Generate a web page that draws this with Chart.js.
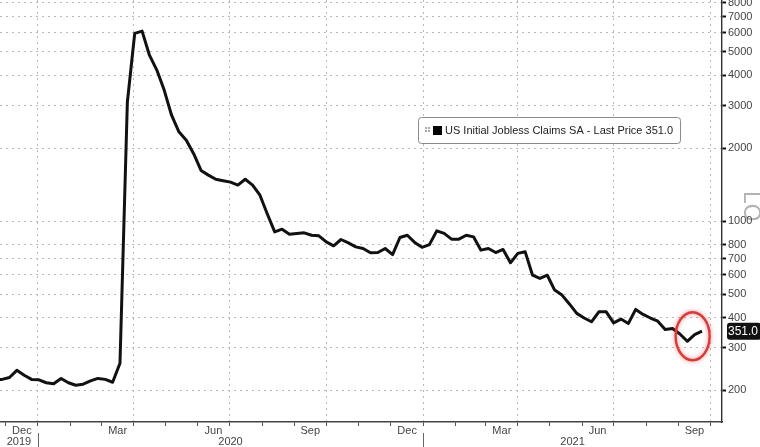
<!DOCTYPE html>
<html>
<head>
<meta charset="utf-8">
<title>US Initial Jobless Claims SA</title>
<script src="https://cdn.jsdelivr.net/npm/chart.js@4.4.0/dist/chart.umd.min.js"></script>
<style>
    html, body { margin: 0; padding: 0; background: #fff; }
    #wrap { width: 760px; height: 447px; }
</style>
</head>
<body>
<div id="wrap"><canvas id="claims-chart" width="760" height="447"></canvas></div>
<script>
// Weekly releases (Thursdays), values in thousands
const firstRelease = '2019-11-21';
const claims = [
    222, 222, 226, 242, 231, 222, 221, 215, 213, 224, 215, 210, 212, 219, 224, 222, 216,
    259, 3100, 5970, 6100, 4850, 4210, 3480, 2740, 2340, 2160, 1900, 1620, 1550, 1490, 1470, 1450, 1410, 1490, 1410,
    1280, 1070, 903, 927, 884, 890, 895, 875, 870, 821, 791, 840, 813, 783, 771, 740, 742, 771, 728, 856, 875, 817, 780,
    800, 912, 890, 843, 843, 875, 861, 759, 771, 742, 764, 673, 736, 747, 598, 580, 598, 519, 495,
    455, 416, 398, 384, 422, 422, 380, 394, 378, 432, 412, 398, 386, 357, 360, 342, 319, 340, 351
];
const lastPrice = 351.0;

// Axis window and tick labels
const axisStart = '2019-11-26';
const axisEnd = '2021-10-12';
const yMin = 148;
const yMax = 8200;
const yTicks = [200, 300, 400, 500, 600, 700, 800, 1000, 2000, 3000, 4000, 5000, 6000, 7000, 8000];
const quarterLabels = { 0: 'Dec', 3: 'Mar', 6: 'Jun', 9: 'Sep' }; // keyed by month that starts the quarter
const years = [2019, 2020, 2021];
const legendText = 'US Initial Jobless Claims SA - Last Price 351.0';

const FONT = '"Liberation Sans", Arial, sans-serif';
const BASE = Date.UTC(2020, 0, 1);
const DAY = 86400000;

function dayIndex(iso) {
    return Math.round((Date.parse(iso + 'T00:00:00Z') - BASE) / DAY);
}

const xMin = dayIndex(axisStart);
const xMax = dayIndex(axisEnd);

// First of every month inside the window
function buildMonthTicks() {
    const ticks = [];
    const start = new Date(BASE + xMin * DAY);
    for (let m = start.getUTCMonth() + 1; ; m++) {
        const t = Date.UTC(start.getUTCFullYear(), m, 1);
        const day = Math.round((t - BASE) / DAY);
        if (day > xMax) break;
        const month = new Date(t).getUTCMonth();
        ticks.push({ value: day, month: month, label: quarterLabels[month] || '' });
    }
    return ticks;
}

const monthTicks = buildMonthTicks();
const isQuarter = (value) => monthTicks.some(t => t.value === value && t.month in quarterLabels);

// Bloomberg style extras: legend box, LOG tag, year row, price tag, highlight ring
const decorations = {
    id: 'decorations',
    beforeDraw(chart) {
        const { ctx, scales, chartArea } = chart;
        ctx.save();
        ctx.fillStyle = '#fff';
        ctx.fillRect(0, 0, chart.width, chart.height);
        // rotated LOG tag on the value axis
        ctx.save();
        ctx.translate(739, 191);
        ctx.rotate(Math.PI / 2);
        ctx.fillStyle = '#b4b4b4';
        ctx.font = '23px ' + FONT;
        ctx.textBaseline = 'bottom';
        ctx.fillText('LOG', 0, 0);
        ctx.restore();
        // white backing under the value labels, the tag tucks under them
        ctx.fillStyle = '#fff';
        yTicks.forEach(v => {
            const py = scales.y.getPixelForValue(v);
            ctx.fillRect(chartArea.right + 5, py - 1, 33, 19);
        });
        ctx.restore();
    },
    afterDraw(chart) {
        const { ctx, chartArea, scales } = chart;
        const x = scales.x, y = scales.y;
        ctx.save();

        // year row under the month labels
        ctx.font = '11px ' + FONT;
        ctx.fillStyle = '#444';
        ctx.textAlign = 'center';
        ctx.textBaseline = 'middle';
        years.forEach(year => {
            const from = Math.max(Date.UTC(year, 0, 1), BASE + xMin * DAY);
            const to = Math.min(Date.UTC(year + 1, 0, 1), BASE + xMax * DAY);
            const mid = ((from + to) / 2 - BASE) / DAY;
            ctx.fillText(String(year), x.getPixelForValue(mid), chartArea.bottom + 20);
            const jan1 = (Date.UTC(year, 0, 1) - BASE) / DAY;
            if (jan1 > xMin && jan1 < xMax) {
                const px = Math.round(x.getPixelForValue(jan1)) + 0.5;
                ctx.strokeStyle = '#666';
                ctx.lineWidth = 1;
                ctx.beginPath();
                ctx.moveTo(px, chartArea.bottom + 11);
                ctx.lineTo(px, chart.height);
                ctx.stroke();
            }
        });

        // ring round the latest readings
        const meta = chart.getDatasetMeta(0).data.slice(-3);
        const xs = meta.map(p => p.x), ys = meta.map(p => p.y);
        const cx = (Math.min(...xs) + Math.max(...xs)) / 2;
        const cy = (Math.min(...ys) + Math.max(...ys)) / 2;
        ctx.strokeStyle = '#d43c3c';
        ctx.lineWidth = 2.4;
        ctx.shadowColor = 'rgba(230, 70, 70, 0.7)';
        ctx.shadowBlur = 4;
        ctx.beginPath();
        ctx.ellipse(cx - 2, cy, 17, 24, 0, 0, Math.PI * 2);
        ctx.stroke();
        ctx.shadowBlur = 0;

        // last price tag on the value axis
        const py = y.getPixelForValue(lastPrice);
        ctx.fillStyle = '#111';
        ctx.beginPath();
        ctx.roundRect(chartArea.right + 5, py - 8.5, chart.width - chartArea.right - 4, 17, 3);
        ctx.fill();
        ctx.fillStyle = '#fff';
        ctx.font = '12px ' + FONT;
        ctx.textAlign = 'center';
        ctx.fillText(lastPrice.toFixed(1), chartArea.right + 21, py + 0.5);

        // legend box
        const lx = 418, ly = 117;
        ctx.font = '11px ' + FONT;
        const tw = ctx.measureText(legendText).width;
        ctx.fillStyle = '#fff';
        ctx.strokeStyle = '#8a8a8a';
        ctx.lineWidth = 1;
        ctx.beginPath();
        ctx.roundRect(lx + 0.5, ly + 0.5, tw + 34, 26, 3);
        ctx.fill();
        ctx.stroke();
        ctx.fillStyle = '#aaa';
        for (let i = 0; i < 2; i++) {
            for (let j = 0; j < 2; j++) ctx.fillRect(lx + 7 + i * 3, ly + 10 + j * 3, 2, 2);
        }
        ctx.fillStyle = '#000';
        ctx.fillRect(lx + 15, ly + 9, 9, 9);
        ctx.fillStyle = '#222';
        ctx.textAlign = 'left';
        ctx.fillText(legendText, lx + 27, ly + 14);
        ctx.restore();
    }
};

function createChart() {
    const start = dayIndex(firstRelease);
    const points = claims.map((v, i) => ({ x: start + 7 * i, y: v }));

    return new Chart(document.getElementById('claims-chart'), {
        type: 'line',
        data: {
            datasets: [{
                label: 'US Initial Jobless Claims SA',
                data: points,
                borderColor: '#111',
                borderWidth: 3,
                pointRadius: 0,
                tension: 0,
                borderJoinStyle: 'round'
            }]
        },
        options: {
            responsive: false,
            animation: false,
            layout: { padding: 0 },
            plugins: { legend: { display: false }, tooltip: { enabled: false } },
            scales: {
                x: {
                    type: 'linear',
                    min: xMin,
                    max: xMax,
                    bounds: 'data',
                    afterBuildTicks: (scale) => { scale.ticks = monthTicks.map(t => ({ value: t.value })); },
                    afterFit: (scale) => { scale.height = 25; scale.paddingLeft = 0; scale.paddingRight = 0; },
                    ticks: {
                        autoSkip: false,
                        maxRotation: 0,
                        labelOffset: -16,
                        padding: -2,
                        color: '#444',
                        font: { family: FONT, size: 11 },
                        callback: (value, index) => monthTicks[index] ? monthTicks[index].label : ''
                    },
                    grid: {
                        color: (ctx) => ctx.tick && isQuarter(ctx.tick.value) ? '#b8b8b8' : 'rgba(0,0,0,0)',
                        lineWidth: 1,
                        tickColor: '#555',
                        tickLength: 4,
                        tickWidth: 1
                    },
                    border: { display: true, color: '#444', width: 1.4, dash: [2, 4] }
                },
                y: {
                    type: 'logarithmic',
                    position: 'right',
                    min: yMin,
                    max: yMax,
                    bounds: 'data',
                    afterBuildTicks: (scale) => { scale.ticks = yTicks.map(v => ({ value: v })); },
                    afterFit: (scale) => { scale.width = 38; scale.paddingTop = 0; scale.paddingBottom = 0; },
                    ticks: {
                        autoSkip: false,
                        padding: 2,
                        color: '#444',
                        font: { family: FONT, size: 11 },
                        callback: (value) => String(value)
                    },
                    grid: {
                        color: '#b8b8b8',
                        lineWidth: 1,
                        tickColor: '#111',
                        tickLength: 4,
                        tickWidth: 2
                    },
                    border: { display: true, color: '#333', width: 1.4, dash: [2, 4] }
                }
            }
        },
        plugins: [decorations]
    });
}

document.addEventListener('DOMContentLoaded', () => {
    try {
        createChart();
    } catch (error) {
        console.error('Error drawing jobless claims chart:', error);
    }
});
</script>
</body>
</html>
